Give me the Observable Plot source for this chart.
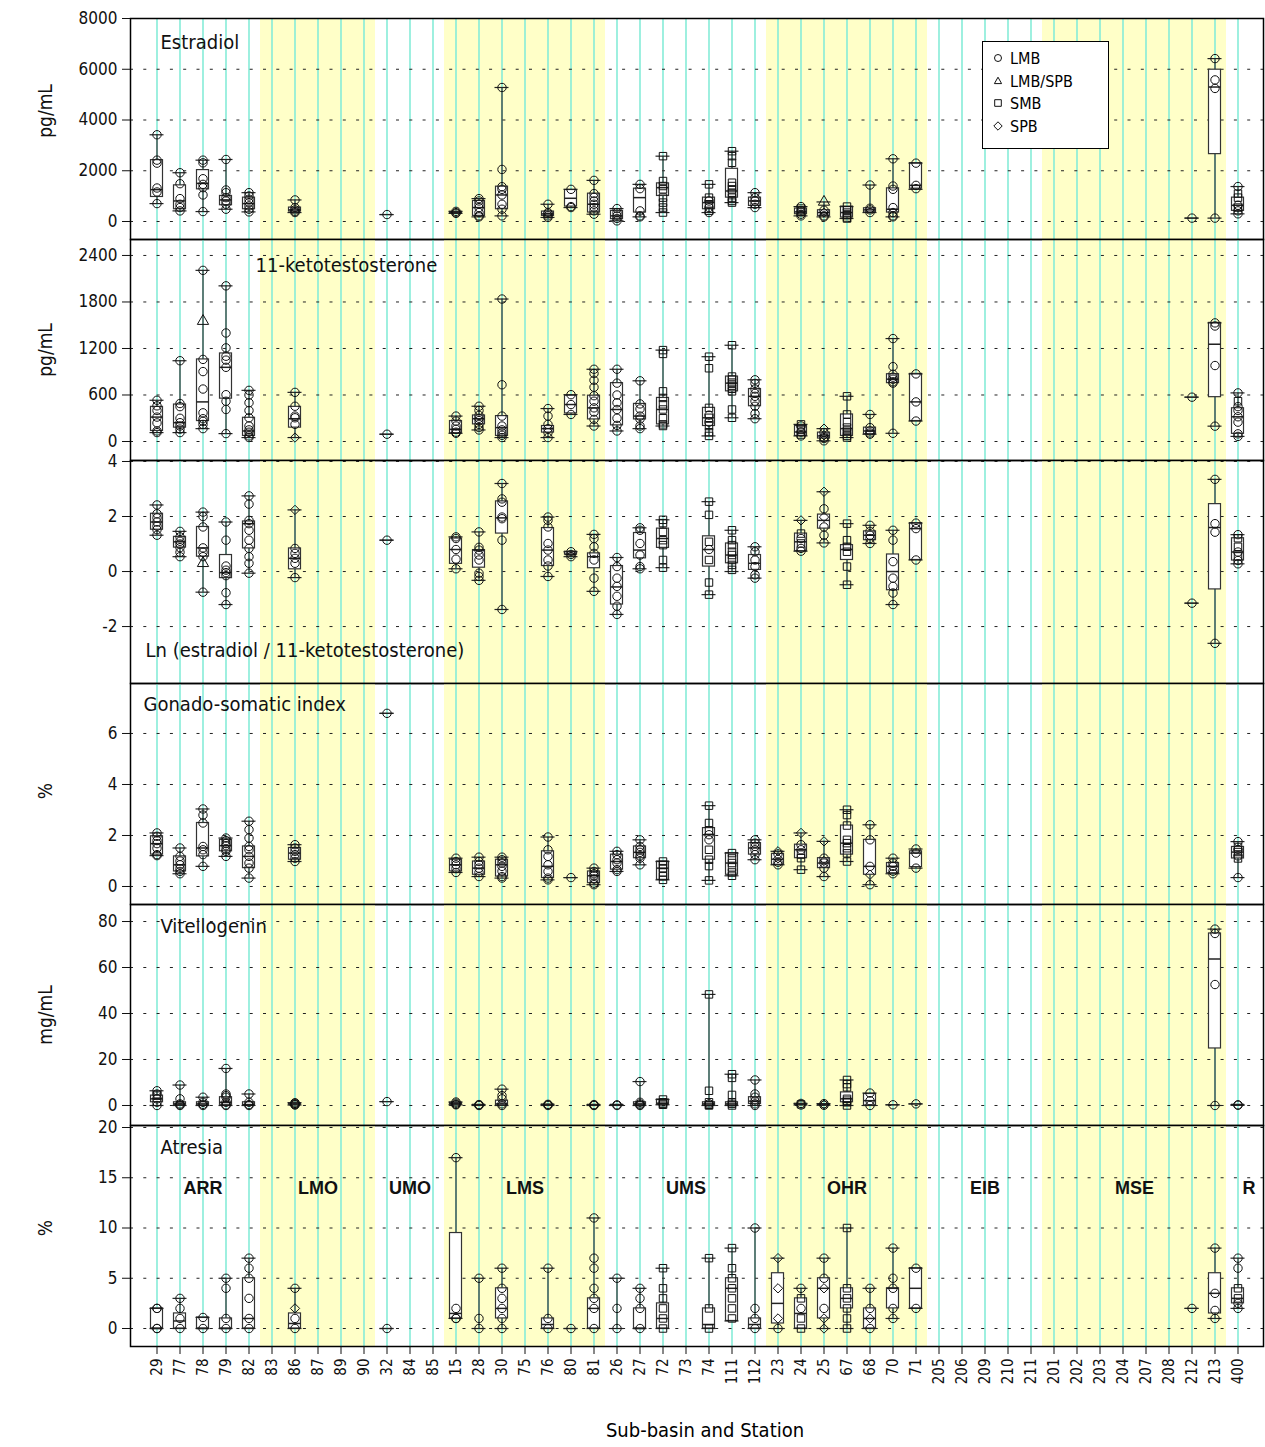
<!DOCTYPE html>
<html><head><meta charset="utf-8">
<script src="https://cdn.jsdelivr.net/npm/d3@7"></script>
<script src="https://cdn.jsdelivr.net/npm/@observablehq/plot@0.6"></script>
<style>
body{margin:0;background:#fff;}
#wrap{position:relative;width:1265px;height:1447px;font-family:"DejaVu Sans","Liberation Sans",sans-serif;font-stretch:condensed;}
.panel{position:absolute;left:0;}
#legend{position:absolute;left:982px;top:41px;width:125px;height:106px;border:1px solid #000;background:#fff;font-size:16px;}
#legend div{position:absolute;left:8px;height:22px;line-height:22px;}
#xlabel{position:absolute;left:0;width:1410px;top:1418px;text-align:center;font-size:20px;}
</style></head><body><div id="wrap"></div>
<script>
// ---------- categories ----------
const stations = ["29","77","78","79","82","83","86","87","89","90","32","84","85","15","28","30","75","76","80","81","26","27","72","73","74","111","112","23","24","25","67","68","70","71","205","206","209","210","211","201","202","203","204","207","208","212","213","400"];
const basinNames = ["ARR","LMO","UMO","LMS","UMS","OHR","EIB","MSE","R"];
const basinStations = [
  ["29","77","78","79","82"],["83","86","87","89","90"],["32","84","85"],
  ["15","28","30","75","76","80","81"],["26","27","72","73","74","111","112"],
  ["23","24","25","67","68","70","71"],["205","206","209","210","211"],
  ["201","202","203","204","207","208","212","213"],["400"]];
const shadedBasins = ["LMO","LMS","OHR","MSE"];
const speciesNames = ["LMB","LMB/SPB","SMB","SPB"];

// ---------- data: [station, [min,q1,median,q3,max], individual values (s=SMB, d=SPB, t=LMB/SPB)] ----------
const estradiol = [
 ["29",[706,967,1255,2418,3418],"3418 2418 2300 1320 1163 706"],
 ["77",[418,484,810,1425,1922],"1922 1490 902 680 549 418"],
 ["78",[392,1268,1503,2026,2418],"2418 2313 1686 1464 1333 1046 392"],
 ["79",[484,641,850,1007,2444],"2444 1242 1137 941 810 680 484"],
 ["82",[379,484,706,941,1137],"1137 1007 876 745 615 484 379"],
 ["86",[353,392,458,549,850],"850 549 458 392 353"],
 ["32",[274],"274"],
 ["15",[320,330,350,380,400],"400 350 320"],
 ["28",[183,222,549,810,902],"902 810 680 549 353 222 183"],
 ["30",[222,484,1046,1373,5281],"5281 2052 1373 1268 1046 680 484 222"],
 ["76",[160,222,300,392,680],"680 353 300 222 160"],
 ["80",[549,588,915,1242,1268],"1268 588 549"],
 ["81",[288,353,680,1098,1621],"1621 1100 950 810 680 550 420 288"],
 ["26",[26,92,222,418,510],"510 350 222 120 26"],
 ["27",[183,353,941,1294,1464],"1464 1294 418 222 183"],
 ["72",[353,1007,1333,1503,2575],"2575s 1595s 1398s 1268s 941s 745s 550s 353s"],
 ["74",[353,484,745,941,1464],"1464s 941s 810 680s 550 420s 353"],
 ["111",[745,941,1203,2078,2771],"2771s 2575s 2314s 1529s 1398s 1268s 1137s 941s 810s 745s"],
 ["112",[549,614,810,941,1137],"1137 941 810 680 549"],
 ["24",[222,288,379,510,588],"588 510s 418 379s 288 222"],
 ["25",[183,222,353,444,771],"771t 444 353d 222 183"],
 ["67",[118,157,353,588,588],"588s 444s 353s 250s 157s 118s"],
 ["68",[353,353,458,523,1438],"1438 523 458 353"],
 ["70",[183,353,484,1307,2471],"2471 1398 1268 549 353 222 183"],
 ["71",[1268,1294,1425,2300,2300],"2300 1425 1294"],
 ["212",[134],"134"],
 ["213",[134,2655,5300,5983,6420],"6420 5580 5244 134"],
 ["400",[302,420,639,941,1378],"1378 1100s 941s 639 550s 420 302"]
];
const ketotestosterone = [
 ["29",[115,136,315,447,532],"532 460 400 315 240 136 115"],
 ["77",[115,179,243,477,1042],"1042 490 450 300 243 200 160 115"],
 ["78",[166,264,511,1059,2208],"2208 1553t 1059 902 677 370 294 260 220 166"],
 ["79",[102,553,957,1136,2008],"2008 1400 1208 1100 1050 957 604 519 413 102"],
 ["82",[51,72,136,306,660],"660 600 500 400 306 200 150 120 72 51"],
 ["86",[51,179,294,447,634],"634 455 328 306 221 51d"],
 ["32",[94],"94"],
 ["15",[106,106,157,264,328],"328 264 200 157 120 106"],
 ["28",[149,221,294,336,455],"455 400 336 300 270 221 180 149"],
 ["30",[51,72,179,328,1838],"1838 732 328 200 150 110 80 51"],
 ["76",[51,115,166,200,425],"425 328 221 166 115 51"],
 ["80",[349,362,477,591,604],"604 477 349"],
 ["81",[200,285,434,591,932],"932 877 790 700 591 520 434 380 285 200"],
 ["26",[136,208,413,753,932],"932 753 600 500 413 300 208 136"],
 ["27",[166,285,328,485,783],"783 485 420 328 290 200 166"],
 ["72",[200,221,413,562,1179],"1179s 1130s 647s 562s 480s 413s 300s 221s 200s"],
 ["74",[72,200,306,434,1094],"1094s 945s 434s 340 306s 250 200s 120s 72s"],
 ["111",[306,647,753,838,1242],"1242s 838s 800s 760s 720s 680s 647s 413s 306s"],
 ["112",[294,455,583,677,796],"796 750 677 620 583 520 455 360 294"],
 ["24",[72,72,123,200,221],"221s 200 150s 123 90s 72"],
 ["25",[9,38,72,115,166],"166d 115 80d 50 38 9"],
 ["67",[51,72,166,349,583],"583s 349s 250s 180s 140s 100s 72s 51s"],
 ["68",[94,94,136,179,349],"349 179 136 110 94"],
 ["70",[106,753,804,868,1328],"1328 966 868 830 804 770 753 106"],
 ["71",[264,264,511,872,872],"872 511 264"],
 ["212",[572],"572"],
 ["213",[198,572,1255,1530,1530],"1530 1490 980 198"],
 ["400",[66,99,319,429,627],"627 520s 450 400 319 250 99 66"]
];
const lnRatio = [
 ["29",[1.32,1.52,1.80,2.10,2.42],"2.42 2.10 1.95 1.80 1.65 1.52 1.32"],
 ["77",[0.54,0.87,1.08,1.26,1.46],"1.46 1.26 1.10 1.00 0.87 0.70 0.54"],
 ["78",[-0.75,0.54,0.86,1.62,2.16],"2.16 2.00 1.62 0.86 0.70 0.54 0.30t -0.75"],
 ["79",[-1.20,-0.24,-0.04,0.60,1.80],"1.80 1.14 0.20 0.05 -0.04 -0.15 -0.77 -1.20"],
 ["82",[-0.06,0.84,1.74,1.82,2.75],"2.75 2.45 1.86 1.74 1.50 1.14 0.84 0.54 0.30 -0.06"],
 ["86",[-0.22,0.08,0.48,0.84,2.24],"2.24d 0.84 0.66 0.48 0.30 -0.22"],
 ["32",[1.14],"1.14"],
 ["15",[0.10,0.28,0.80,1.20,1.26],"1.26 1.20 0.80 0.45 0.10"],
 ["28",[-0.32,0.14,0.78,0.78,1.44],"1.44 0.88 0.78 0.60 0.42 -0.06 -0.18 -0.32"],
 ["30",[-1.38,1.38,1.95,2.55,3.20],"3.20 2.64 2.52 1.98 1.92 1.14 -1.38"],
 ["76",[-0.18,0.20,0.78,1.58,1.98],"1.98 1.86 1.62 1.02 0.78 0.42 0.20 -0.18"],
 ["80",[0.54,0.62,0.62,0.72,0.72],"0.72 0.62 0.54"],
 ["81",[-0.72,0.12,0.54,0.66,1.35],"1.35 1.20 0.90 0.66 0.42 -0.24 -0.72"],
 ["26",[-1.56,-1.20,-0.56,0.20,0.51],"0.51 0.18 -0.24 -0.54 -0.90 -1.26 -1.56"],
 ["27",[0.10,0.48,0.78,1.40,1.59],"1.59 1.50 1.02 0.60 0.18 0.10"],
 ["72",[0.14,0.86,1.20,1.56,1.88],"1.88s 1.76s 1.44s 1.14s 0.96s 0.42s 0.14s"],
 ["74",[-0.84,0.18,0.80,1.28,2.54],"2.54s 2.06s 1.08s 0.80 0.42s -0.40s -0.84s"],
 ["111",[0,0.30,0.60,1.02,1.50],"1.50s 1.14s 0.96s 0.72s 0.60s 0.42s 0.24s 0.06s"],
 ["112",[-0.24,0.06,0.30,0.60,0.90],"0.90 0.72 0.42 0.18 -0.12 -0.24"],
 ["24",[0.74,0.74,1.08,1.38,1.86],"1.86d 1.38s 1.20 1.02s 0.84 0.74"],
 ["25",[1.04,1.56,1.86,2.07,2.90],"2.90d 2.28 1.98d 1.62 1.32 1.04"],
 ["67",[-0.48,0.42,0.80,0.96,1.74],"1.74s 1.14s 0.90s 0.72s 0.18s -0.48s"],
 ["68",[1.02,1.14,1.32,1.46,1.68],"1.68 1.46 1.32 1.20 1.02"],
 ["70",[-1.20,-0.68,0,0.62,1.50],"1.50 1.14 0.36 -0.24 -0.54 -0.78 -1.20"],
 ["71",[0.42,0.42,1.56,1.76,1.76],"1.76 1.56 0.42"],
 ["212",[-1.15],"-1.15"],
 ["213",[-2.61,-0.65,1.60,2.45,3.35],"3.35 1.74 1.43 -2.61"],
 ["400",[0.28,0.40,0.71,1.21,1.34],"1.34 1.21s 0.90s 0.71 0.55s 0.40 0.28"]
];
const gsi = [
 ["29",[1.21,1.25,1.68,1.97,2.10],"2.10 1.97 1.80 1.68 1.50 1.25 1.21"],
 ["77",[0.50,0.59,0.85,1.18,1.51],"1.51 1.18 1.00 0.85 0.70 0.59 0.50"],
 ["78",[0.79,1.18,1.51,2.49,3.04],"3.04 2.80 2.49 1.57 1.44 1.25 0.79"],
 ["79",[1.18,1.38,1.60,1.83,1.90],"1.90 1.80 1.68 1.60 1.45 1.38 1.18"],
 ["82",[0.33,0.72,1.18,1.57,2.56],"2.56 2.23 1.90 1.57 1.44 1.18 0.92 0.72 0.33"],
 ["86",[0.98,1.05,1.31,1.51,1.64],"1.64 1.51 1.38 1.25 1.11 0.98"],
 ["32",[6.79],"6.79"],
 ["15",[0.55,0.59,0.85,1.05,1.11],"1.11 0.98 0.85 0.70 0.55"],
 ["28",[0.39,0.46,0.72,0.98,1.15],"1.15 0.98 0.85 0.72 0.55 0.39"],
 ["30",[0.33,0.39,0.85,1.05,1.15],"1.15 1.05 0.92 0.79 0.60 0.39 0.33"],
 ["76",[0.26,0.33,0.79,1.38,1.94],"1.94 1.44 1.18 0.85 0.59 0.33 0.26"],
 ["80",[0.35],"0.35"],
 ["81",[0.07,0.13,0.42,0.59,0.72],"0.72 0.59 0.50 0.42 0.30 0.13 0.07"],
 ["26",[0.59,0.66,0.98,1.25,1.38],"1.38 1.25 1.05 0.92 0.66 0.59"],
 ["27",[0.85,1.11,1.34,1.57,1.83],"1.83 1.57 1.44 1.34 1.20 1.11 0.85"],
 ["72",[0.26,0.26,0.72,0.98,0.98],"0.98s 0.85s 0.72s 0.55s 0.40s 0.26s"],
 ["74",[0.24,1.05,2.03,2.29,3.17],"3.17s 2.49s 2.20s 2.03 1.83 1.44s 1.05s 0.80s 0.24s"],
 ["111",[0.42,0.46,0.92,1.31,1.31],"1.31s 1.10s 0.92s 0.75s 0.55s 0.42s"],
 ["112",[1.05,1.25,1.51,1.70,1.83],"1.83 1.70 1.57 1.44 1.25 1.05"],
 ["23",[0.85,0.85,1.07,1.28,1.38],"1.38d 1.28 1.10d 0.95 0.85"],
 ["24",[0.66,1.11,1.44,1.64,2.10],"2.10d 1.64 1.44 1.25s 1.11s 0.66s"],
 ["25",[0.39,0.72,0.92,1.11,1.77],"1.77d 1.11 1.00d 0.92 0.72 0.39"],
 ["67",[0.98,1.25,1.70,2.39,3.01],"3.01s 2.80s 2.39s 1.83s 1.70s 1.50s 1.30s 0.98s"],
 ["68",[0.07,0.46,0.79,1.83,2.42],"2.42 1.83 0.79 0.46d 0.07"],
 ["70",[0.50,0.52,0.79,0.92,1.11],"1.11 0.92 0.79 0.60 0.50"],
 ["71",[0.72,0.76,1.31,1.38,1.47],"1.47 1.31 0.72"],
 ["400",[0.35,1.10,1.35,1.55,1.76],"1.76 1.55s 1.45 1.35s 1.20 1.10s 0.35"]
];
const vitellogenin = [
 ["29",[0,1.4,2.9,4.3,6.4],"6.4 5.0 4.3s 2.9 1.4 0"],
 ["77",[0,0.3,0.7,1.4,8.9],"8.9 2.9 0.7 0.3 0"],
 ["78",[0,0,0.7,1.4,3.6],"3.6 1.4 0.5 0"],
 ["79",[0,0.3,1.4,3.6,16.1],"16.1 5.0 4.3 3.6 1.4 0.3 0"],
 ["82",[0,0,0.4,1.4,5.0],"5.0 1.4 0.4 0"],
 ["86",[0.2,0.4,0.6,0.9,1.2],"1.2 0.9 0.6 0.4 0.2"],
 ["32",[1.7],"1.7"],
 ["15",[0.3,0.5,0.8,1.2,1.5],"1.5 1.0 0.5 0.3"],
 ["28",[0,0.1,0.2,0.3,0.4],"0.4 0.2 0"],
 ["30",[0,0,0.7,2.1,7.1],"7.1 4.3 2.9 0.7 0"],
 ["76",[0,0.1,0.3,0.4,0.5],"0.5 0.3 0"],
 ["81",[0,0.1,0.2,0.3,0.4],"0.4 0.1 0"],
 ["26",[0,0.1,0.2,0.3,0.4],"0.3 0"],
 ["27",[0,0.3,0.7,1.4,10.4],"10.4 1.4 0.7 0.3 0"],
 ["72",[0.3,0.3,1.0,2.6,2.6],"2.6s 1.4s 0.7s 0.3s"],
 ["74",[0,0,0.7,1.4,48.3],"48.3s 6.4s 1.4s 0.7 0.3s 0s"],
 ["111",[0,0,0.7,1.4,13.6],"13.6s 12.0s 4.6s 1.4s 0.7s 0s"],
 ["112",[0,0.7,1.9,3.6,11.1],"11.1 5.0 3.6 1.9 0.7 0"],
 ["24",[0.2,0.3,0.5,0.7,0.9],"0.9 0.5s 0.2"],
 ["25",[0.1,0.2,0.4,0.6,0.8],"0.8 0.4d 0.1"],
 ["67",[0,1.4,2.9,5.7,11.1],"11.1s 9.3s 7.9s 2.9s 2.1s 1.4s 0s"],
 ["68",[0,0,2.1,5.0,5.4],"5.4 2.1 0"],
 ["70",[0.3],"0.3"],
 ["71",[0.7],"0.7"],
 ["213",[0,24.8,63.7,74.8,76.7],"76.7 74.8 52.6 0"],
 ["400",[0.1,0.1,0.3,0.3,0.3],"0.3 0.1"]
];
const atresia = [
 ["29",[0,0,0,2,2],"2 2 0 0"],
 ["77",[0,0,0.75,1.5,3],"3 2 1 0"],
 ["78",[0,0,0,1.1,1.1],"1.1 0"],
 ["79",[0,0,0,1,5],"5 4 1 0"],
 ["82",[0,0,1,5,7],"7 6 5 3 1 0"],
 ["86",[0,0,0.5,1.5,4],"4 2d 1 0"],
 ["32",[0],"0"],
 ["15",[1,1,1.5,9.5,17],"17 2 1 1"],
 ["28",[0,0,0,0,5],"5 1 0"],
 ["30",[0,1,2,4,6],"6 4 3 2 1 0"],
 ["76",[0,0,0.4,1,6],"6 1 0"],
 ["80",[0],"0"],
 ["81",[0,0,2,3,11],"11 7 6 4 3 2 0"],
 ["26",[0,0,0,0,5],"5 2 0"],
 ["27",[0,0,0,2,4],"4 3 2 0"],
 ["72",[0,0,1,2.5,6],"6s 4s 3s 2s 1s 0s"],
 ["74",[0,0,0.4,2,7],"7s 2s 0s"],
 ["111",[0.75,0.75,4,5,8],"8s 6s 5s 4s 3s 2s 1s"],
 ["112",[0,0,0.4,1,10],"10 2 1 0"],
 ["23",[0,0.5,2.5,5.5,7],"7d 4d 1d 0"],
 ["24",[0,0,1.5,3,4],"4 3s 2 1s 0s"],
 ["25",[0,1,4,5,7],"7 5 4d 2 1d 0d"],
 ["67",[0,2,3,4,10],"10s 4s 3s 2s 1s 0s"],
 ["68",[0,0,1,2,4],"4 2 1d 0"],
 ["70",[1,2,4,4,8],"8 5 4 2 1"],
 ["71",[2,2,4,6,6],"6 2"],
 ["212",[2],"2"],
 ["213",[1,1.5,3.5,5.5,8],"8 3.5 1.8 1"],
 ["400",[2,2.5,3,4,7],"7 6 4s 3s 2.5 2"]
];

// ---------- panel definitions ----------
const panels = [
 {rows: estradiol, title: "Estradiol", ylab: "pg/mL", top: 18, bottom: 239, dom: [-709, 8000], ticks: [0,2000,4000,6000,8000], tdx: 30, tdy: 24, ydy: -18},
 {rows: ketotestosterone, title: "11-ketotestosterone", ylab: "pg/mL", top: 239, bottom: 460, dom: [-245, 2606], ticks: [0,600,1200,1800,2400], tdx: 125, tdy: 26, ydy: 0},
 {rows: lnRatio, title: "Ln (estradiol / 11-ketotestosterone)", ylab: "", top: 460, bottom: 683, dom: [-4.07, 4.036], ticks: [-2,0,2,4], tdx: 15, tdy: 190, ydy: 0},
 {rows: gsi, title: "Gonado-somatic index", ylab: "%", top: 683, bottom: 904, dom: [-0.706, 7.96], ticks: [0,2,4,6], tdx: 13, tdy: 21, ydy: -3},
 {rows: vitellogenin, title: "Vitellogenin", ylab: "mg/mL", top: 904, bottom: 1125, dom: [-8.7, 87.4], ticks: [0,20,40,60,80], tdx: 30, tdy: 22, ydy: 0},
 {rows: atresia, title: "Atresia", ylab: "%", top: 1125, bottom: 1346, dom: [-1.79, 20.2], ticks: [0,5,10,15,20], tdx: 30, tdy: 22, ydy: -8}
];

const W = 1265, ML = 130, MR = 2, PAD = 0.55;
const step = (W - ML - MR) / (stations.length + 2 * PAD);
const shadedStations = basinStations.filter((s, i) => shadedBasins.includes(basinNames[i])).flat();
const basinLabels = basinNames.map((name, i) => {
  const st = basinStations[i];
  const mid = Math.floor((st.length - 1) / 2);
  const dx = name === "R" ? 11 : (st.length % 2 === 0 ? step / 2 : 0);
  return {name, station: st[mid], dx};
});
const spCode = {s: "SMB", d: "SPB", t: "LMB/SPB"};
function parsePoints(rows) {
  return rows.flatMap(([station, , str]) => str.split(" ").filter(Boolean).map(t => {
    const c = t.slice(-1);
    return {station, value: parseFloat(t), sp: spCode[c] || "LMB"};
  }));
}
function parseBoxes(rows) {
  return rows.map(([station, a]) => a.length === 1
    ? {station, min: a[0], q1: a[0], med: a[0], q3: a[0], max: a[0]}
    : {station, min: a[0], q1: a[1], med: a[2], q3: a[3], max: a[4]});
}

const FONT = '"DejaVu Sans","Liberation Sans",sans-serif';
const wrap = document.getElementById("wrap");
const PADT = 12;

panels.forEach((p, i) => {
  const last = i === panels.length - 1;
  const boxes = parseBoxes(p.rows);
  const pts = parsePoints(p.rows);
  const mb = last ? 90 : PADT;
  const marks = [
    Plot.barY(shadedStations, {x: d => d, y1: p.dom[0], y2: p.dom[1], fill: "#ffffc8"}),
    Plot.ruleX(stations, {x: d => d, stroke: "#86ecd8", strokeWidth: 1.6}),
    Plot.gridY(p.ticks, {stroke: "#222", strokeOpacity: 1, strokeDasharray: "3,10.3"}),
    Plot.ruleX(boxes, {x: "station", y1: "min", y2: "max", stroke: "#333", strokeWidth: 1.2}),
    Plot.barY(boxes.filter(d => d.q3 > d.q1), {x: "station", y1: "q1", y2: "q3", fill: "white", stroke: "#333", strokeWidth: 1.2, insetLeft: 5.5, insetRight: 5.5}),
    Plot.tickY(boxes.filter(d => d.q3 > d.q1), {x: "station", y: "med", stroke: "#222", strokeWidth: 1.5, insetLeft: 5.5, insetRight: 5.5}),
    Plot.tickY(boxes, {x: "station", y: "min", stroke: "#222", strokeWidth: 1.2, insetLeft: 4.5, insetRight: 4.5}),
    Plot.tickY(boxes, {x: "station", y: "max", stroke: "#222", strokeWidth: 1.2, insetLeft: 4.5, insetRight: 4.5}),
    Plot.dot(pts, {x: "station", y: "value", symbol: "sp", r: 4.2, stroke: "#111", fill: "none", strokeWidth: 1}),
    Plot.frame({stroke: "#000", strokeWidth: 1.5}),
    Plot.ruleX([0], {x: () => undefined, frameAnchor: "left"}),
    Plot.axisY(p.ticks, {tickSize: 8, tickPadding: 5, fontSize: 17, label: null, tickFormat: d => String(d)}),
    Plot.text([p.title], {frameAnchor: "top-left", dx: p.tdx, dy: p.tdy, textAnchor: "start", lineAnchor: "middle", fontSize: 20, fill: "#111"})
  ];
  marks.splice(10, 1);
  if (p.ylab) marks.push(Plot.text([p.ylab], {frameAnchor: "left", dx: -85, dy: p.ydy, rotate: -90, textAnchor: "middle", lineAnchor: "middle", fontSize: 19, fill: "#111"}));
  if (last) {
    marks.push(Plot.axisX({tickRotate: -90, tickSize: 8, tickPadding: 4, fontSize: 15, label: null}));
    const labelOpts = {x: "station", y: 14, text: "name", fontSize: 18, fontWeight: "bold", fontFamily: '"Liberation Sans",Arial,sans-serif', fill: "#111"};
    [0, step / 2, 11].forEach(off => {
      marks.push(Plot.text(basinLabels.filter(d => d.dx === off), {...labelOpts, dx: off}));
    });
  }
  const chart = Plot.plot({
    width: W, height: (p.bottom - p.top) + PADT + mb,
    marginLeft: ML, marginRight: MR, marginTop: PADT, marginBottom: mb,
    style: {background: "transparent", overflow: "visible", fontFamily: FONT, fontStretch: "condensed", color: "#111"},
    x: {type: "band", domain: stations, paddingInner: 0, paddingOuter: PAD, axis: last ? undefined : null},
    y: {domain: p.dom, axis: null},
    symbol: {domain: speciesNames, range: ["circle", "triangle", "square", "diamond2"]},
    marks
  });
  const holder = document.createElement("div");
  holder.className = "panel";
  holder.style.top = (p.top - PADT) + "px";
  holder.appendChild(chart);
  wrap.appendChild(holder);
});

// legend
const legend = document.createElement("div");
legend.id = "legend";
const symPaths = {"LMB": "M0,-3.5A3.5,3.5,0,1,1,0,3.5A3.5,3.5,0,1,1,0,-3.5", "LMB/SPB": "M0,-3.8L3.6,2.6L-3.6,2.6Z", "SMB": "M-3.3,-3.3H3.3V3.3H-3.3Z", "SPB": "M0,-4.2L4.2,0L0,4.2L-4.2,0Z"};
speciesNames.forEach((s, i) => {
  const row = document.createElement("div");
  row.style.top = (6 + i * 22.5) + "px";
  row.innerHTML = `<svg width="14" height="14" style="vertical-align:-1px;margin-right:5px"><path transform="translate(7,7)" d="${symPaths[s]}" fill="none" stroke="#111"/></svg>${s}`;
  legend.appendChild(row);
});
wrap.appendChild(legend);
const xl = document.createElement("div");
xl.id = "xlabel";
xl.textContent = "Sub-basin and Station";
wrap.appendChild(xl);
</script></body></html>
